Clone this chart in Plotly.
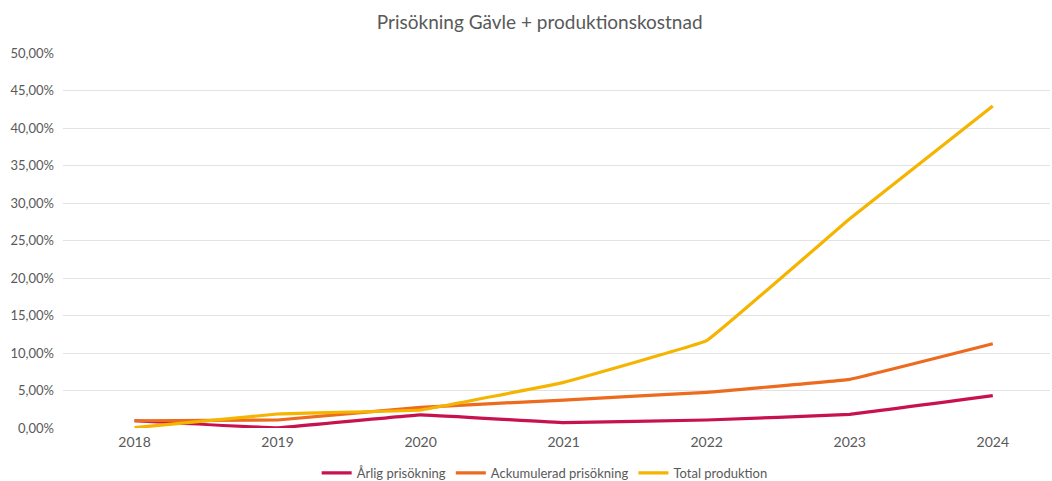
import plotly.graph_objects as go

years = ["2018", "2019", "2020", "2021", "2022", "2023", "2024"]
arlig = [0.97, 0.02, 1.75, 0.71, 1.07, 1.82, 4.31]
ackumulerad = [0.97, 1.07, 2.76, 3.73, 4.76, 6.49, 11.24]
total = [0.04, 1.87, 2.40, 6.09, 11.64, 27.9, 42.93]
y_ticks = [0, 5, 10, 15, 20, 25, 30, 35, 40, 45, 50]
y_tick_labels = [f"{v:.2f}%".replace(".", ",") for v in y_ticks]

FONT = "Lato, sans-serif"

fig = go.Figure()
series = [
    ("Årlig prisökning", arlig, "#C8124E"),
    ("Ackumulerad prisökning", ackumulerad, "#EC6B1F"),
    ("Total produktion", total, "#F4B400"),
]
for name, vals, col in series:
    fig.add_trace(go.Scatter(x=years, y=vals, name=name, mode="lines",
                             line=dict(color=col, width=3.2, shape="spline", smoothing=0.15)))

fig.update_layout(
    width=1052, height=481,
    margin=dict(l=63, r=2, t=53, b=53, autoexpand=False),
    paper_bgcolor="white", plot_bgcolor="white",
    title=dict(text="Prisökning Gävle + produktionskostnad", x=0.513, xanchor="center",
               y=0.953, yanchor="middle",
               font=dict(family=FONT, size=19, color="#595959")),
    font=dict(family=FONT, color="#595959", size=13),
    xaxis=dict(type="category", range=[-0.5, 6.4], showgrid=False, zeroline=False,
               showline=False, ticks="", tickfont=dict(size=14, color="#595959"),
               ticklabelstandoff=4),
    yaxis=dict(range=[0, 50], tickvals=y_ticks, ticktext=y_tick_labels,
               showgrid=True, gridcolor="#E3E3E3", gridwidth=1.3, zeroline=False,
               showline=False, ticks="", tickfont=dict(size=13, color="#595959"),
               ticklabelstandoff=8),
    legend=dict(orientation="h", x=0.488, xanchor="center", y=-0.08, yanchor="top",
                font=dict(size=13, color="#595959"), itemwidth=30, tracegroupgap=0),
)
fig.write_html("out.html")
